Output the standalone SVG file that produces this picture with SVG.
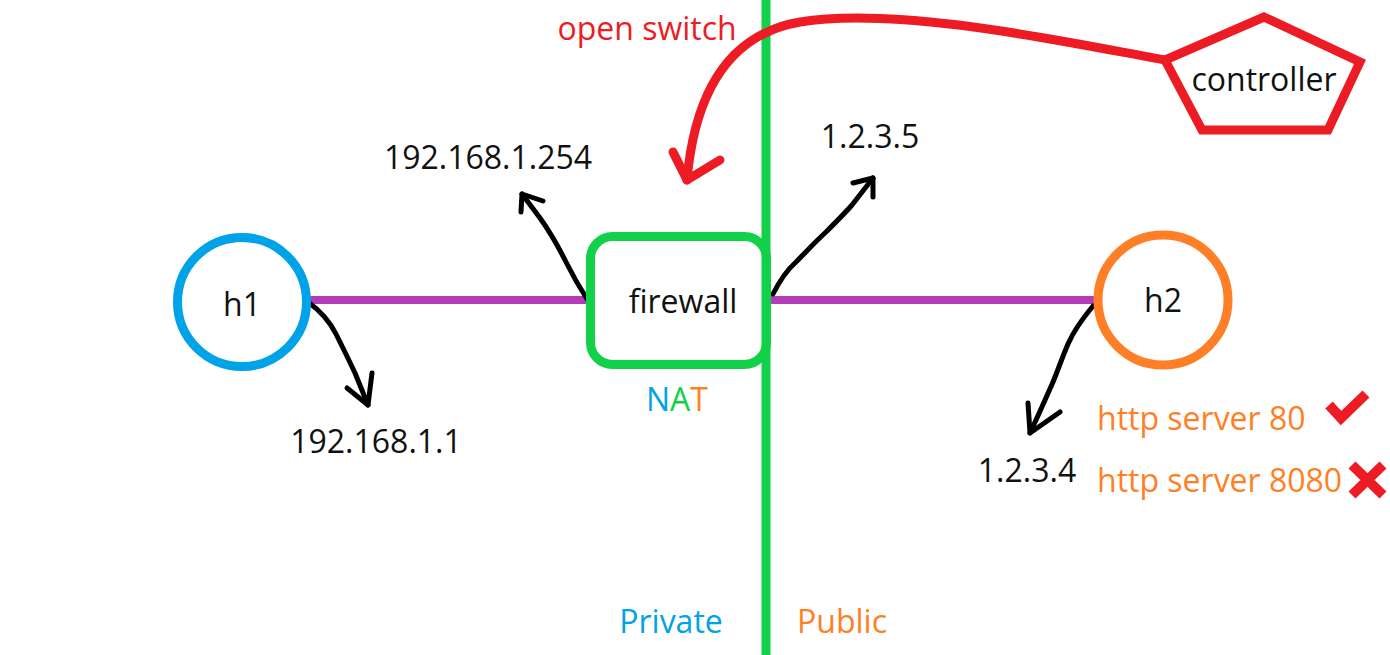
<svg xmlns="http://www.w3.org/2000/svg" width="1390" height="655" viewBox="0 0 1390 655">
<style>
text{font-family:"Open Sans","Noto Sans","Liberation Sans",sans-serif;font-size:32px;fill:#111}
.c{text-anchor:middle}
.red{fill:#ed1c24}
.orange{fill:#ff7f27}
.blue{fill:#00a2e8}
.green{fill:#11d148}
.pen{fill:none;stroke:#000;stroke-width:5;stroke-linecap:round;stroke-linejoin:round}
.link{fill:none;stroke:#b53cb9;stroke-width:8;stroke-linecap:round}
</style>
<rect width="1390" height="655" fill="#fff"/>
<g id="divider">
<line x1="766" y1="0" x2="766" y2="655" stroke="#11d148" stroke-width="9"/>
<text x="671" y="633" class="c blue">Private</text>
<text x="842" y="633" class="c orange">Public</text>
</g>
<g id="connectors">
<line class="link" x1="308" y1="300" x2="588" y2="300"/>
<line class="link" x1="772" y1="300" x2="1095" y2="300"/>
<path d="M1165,60 C1080,45 900,5 800,22 C730,34 695,90 687,180" fill="none" stroke="#ed1c24" stroke-width="9" stroke-linecap="round"/>
<path d="M673,152 L687,180 L720,160" fill="none" stroke="#ed1c24" stroke-width="9" stroke-linecap="round" stroke-linejoin="round"/>
<path class="pen" d="M308,302 C322,312 330,322 336,334 C342,346 347,356 355,373 L368,405"/>
<path class="pen" d="M347,388 L368,405 L372,373"/>
<path class="pen" d="M587,299 C578,285 572,274 566,262 C559,248 550,232 540,218 L522,194"/>
<path class="pen" d="M521,212 L522,194 L543,201"/>
<path class="pen" d="M773,294 C780,280 787,270 796,262 C806,252 815,242 826,232 C836,222 845,213 852,205 L873,178"/>
<path class="pen" d="M853,183 L873,178 L873,197"/>
<path class="pen" d="M1093,306 C1083,318 1074,330 1068,344 C1062,358 1058,370 1053,382 C1046,398 1040,412 1030,433"/>
<path class="pen" d="M1028,403 L1030,433 L1060,412"/>
</g>
<g id="h1">
<circle cx="242" cy="302" r="64.5" fill="none" stroke="#00a2e8" stroke-width="9"/>
<text x="242" y="316" class="c">h1</text>
</g>
<g id="firewall">
<rect x="590.5" y="236.5" width="176" height="128" rx="22" fill="none" stroke="#11d148" stroke-width="9"/>
<text x="683" y="313" class="c">firewall</text>
<text x="677" y="411" class="c"><tspan class="blue">N</tspan><tspan class="green">A</tspan><tspan class="orange">T</tspan></text>
</g>
<g id="h2">
<circle cx="1163" cy="300" r="65" fill="none" stroke="#ff7f27" stroke-width="9"/>
<text x="1163" y="312" class="c">h2</text>
</g>
<g id="controller">
<polygon points="1264,17 1360,62 1328,130 1202,130 1165,60" fill="none" stroke="#ed1c24" stroke-width="9" stroke-linejoin="miter"/>
<text x="1264" y="91" class="c">controller</text>
</g>
<g id="labels">
<text x="647" y="40" class="c red">open switch</text>
<text x="488" y="169" class="c">192.168.1.254</text>
<text x="376" y="453" class="c">192.168.1.1</text>
<text x="870" y="148" class="c">1.2.3.5</text>
<text x="1027" y="482" class="c">1.2.3.4</text>
<text x="1097" y="430" class="orange">http server 80</text>
<text x="1097" y="492" class="orange">http server 8080</text>
<path d="M1329,405 L1341,418 L1366,394" fill="none" stroke="#ed1c24" stroke-width="10" stroke-linejoin="miter"/>
<path d="M1352,465 L1383,495 M1383,465 L1352,495" fill="none" stroke="#ed1c24" stroke-width="10"/>
</g>
</svg>
